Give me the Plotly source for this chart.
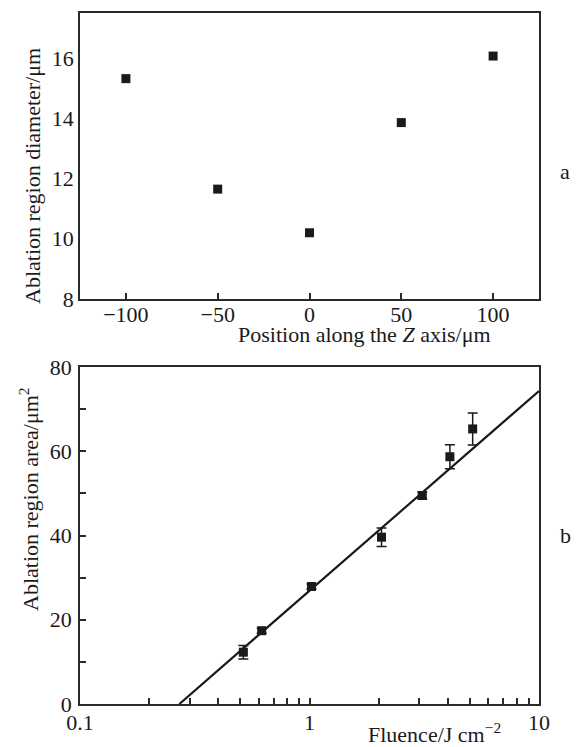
import plotly.graph_objects as go

# ---- Panel a data ----
z_pos = [-100, -50, 0, 50, 100]
diameter = [15.32, 11.65, 10.2, 13.86, 16.07]

# ---- Panel b data ----
fluence = [0.515, 0.619, 1.02, 2.06, 3.10, 4.09, 5.14]
area = [12.3, 17.4, 27.9, 39.6, 49.5, 58.7, 65.3]
area_err = [1.6, 0.6, 0.6, 2.2, 0.8, 2.85, 3.8]

# fitted line (end points)
fit_fluence = [0.271, 10]
fit_area = [0.0, 74.3]

# tick labels
a_xticks = [-100, -50, 0, 50, 100]
a_yticks = [8, 10, 12, 14, 16]
b_yticks = [0, 10, 20, 30, 40, 50, 60, 70, 80]
b_ytext = ["0", "", "20", "", "40", "", "60", "", "80"]
b_xticks = [0.1, 0.2, 0.3, 0.4, 0.5, 0.6, 0.7, 0.8, 0.9, 1,
            2, 3, 4, 5, 6, 7, 8, 9, 10]
b_xtext = ["0.1", "", "", "", "", "", "", "", "", "1",
           "", "", "", "", "", "", "", "", "10"]

FONT = "Liberation Serif, Times New Roman, Times, serif"
FS = 22
INK = "#1a1a1a"
AX = "#2a2a2a"

# page body has an 8px default margin; size the figure to fit the window
OFF = 8
W, H = 579 - OFF, 747 - OFF
ML, MT = 80 - OFF, 13 - OFF
PW, PH = 459, 691
MR, MB = W - ML - PW, H - MT - PH

fig = go.Figure()

fig.add_trace(go.Scatter(
    x=z_pos, y=diameter, mode="markers",
    marker=dict(symbol="square", size=9, color=INK),
    xaxis="x", yaxis="y", showlegend=False))

fig.add_trace(go.Scatter(
    x=fit_fluence, y=fit_area, mode="lines",
    line=dict(color=INK, width=2.2),
    xaxis="x2", yaxis="y2", showlegend=False))

fig.add_trace(go.Scatter(
    x=fluence, y=area, mode="markers",
    marker=dict(symbol="square", size=9, color=INK),
    error_y=dict(type="data", array=area_err, visible=True,
                 color=INK, thickness=1.5, width=5),
    xaxis="x2", yaxis="y2", showlegend=False))

axcommon = dict(showline=True, linecolor=AX, linewidth=1.5, mirror=True,
                showgrid=False, zeroline=False, automargin=False,
                tickfont=dict(family=FONT, size=FS, color=INK))

top_bottom = (704 - 299) / 691
bot_top = (704 - 367) / 691

fig.update_layout(
    template="none",
    width=W, height=H,
    margin=dict(l=ML, r=MR, t=MT, b=MB, pad=0),
    paper_bgcolor="white", plot_bgcolor="white",
    font=dict(family=FONT, size=FS, color=INK),
    xaxis=dict(**axcommon, domain=[0, 1], anchor="y", range=[-125, 125],
               tickvals=a_xticks, ticks="inside", ticklen=6,
               tickwidth=1.5, tickcolor=AX, ticklabelstandoff=-5),
    yaxis=dict(**axcommon, domain=[top_bottom, 1], anchor="x",
               range=[8, 17.5], tickvals=a_yticks, ticks=""),
    xaxis2=dict(**axcommon, domain=[0, 1], anchor="y2", type="log",
                range=[-1, 1], tickvals=b_xticks, ticktext=b_xtext,
                ticks="inside", ticklen=6, tickwidth=1.5, tickcolor=AX,
                ticklabelstandoff=-2),
    yaxis2=dict(**axcommon, domain=[0, bot_top], anchor="x2",
                range=[0, 80], tickvals=b_yticks, ticktext=b_ytext,
                ticks="inside", ticklen=6, tickwidth=1.5, tickcolor=AX,
                ticklabelstandoff=2),
)

def px2paper(px, py):
    return (px - 80) / PW, (704 - py) / PH

ann = [
    ("Ablation region diameter/μm", 32, 176, -90),
    ("Ablation region area/μm<sup>2</sup>", 29, 499, -90),
    ("Position along the <i>Z</i> axis/μm", 364, 335, 0),
    ("Fluence/J cm<sup>−2</sup>", 434, 733, 0),
    ("a", 565, 172, 0),
    ("b", 565, 535, 0),
]
for text, px, py, ang in ann:
    xp, yp = px2paper(px, py)
    fig.add_annotation(text=text, x=xp, y=yp, xref="paper", yref="paper",
                       xanchor="center", yanchor="middle", showarrow=False,
                       textangle=ang, font=dict(family=FONT, size=FS, color=INK))

fig.write_html("out.html")
